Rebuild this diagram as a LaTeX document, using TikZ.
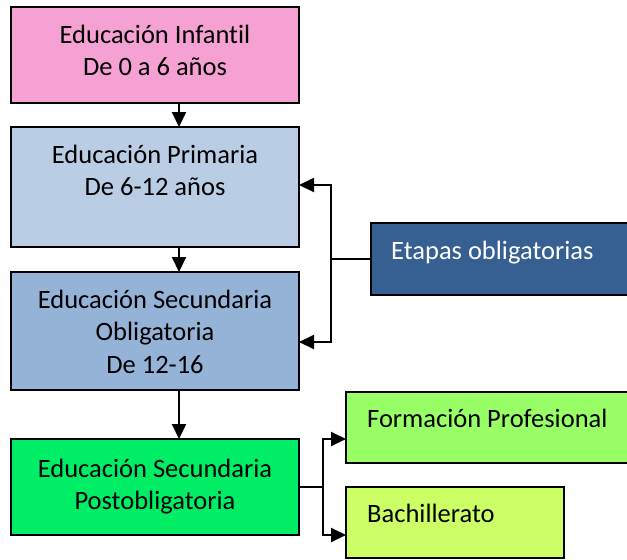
\documentclass[tikz,border=0pt]{standalone}
\usepackage{fontspec}
\setmainfont{Carlito}[Ligatures={NoCommon}]
\usetikzlibrary{arrows.meta}
\definecolor{cpink}{HTML}{F5A1D3}
\definecolor{clblue}{HTML}{B9CDE5}
\definecolor{cmblue}{HTML}{95B3D7}
\definecolor{cgreen}{HTML}{00EE66}
\definecolor{cdblue}{HTML}{376092}
\definecolor{clgreen}{HTML}{99FF66}
\definecolor{cygreen}{HTML}{CCFF66}
\tikzset{
  box/.style={draw=black, line width=2pt, rectangle, inner sep=0pt, outer sep=0pt, anchor=north west},
  txt/.style={inner sep=0pt, font=\fontsize{26.5pt}{32.5pt}\selectfont},
  arr/.style={draw=black, line width=2pt, -{Triangle[length=15pt,width=14pt]}},
  conn/.style={draw=black, line width=2pt}
}
\begin{document}
\begin{tikzpicture}[x=1pt,y=-1pt]
\useasboundingbox (0,0) rectangle (627,560);
\clip (0,0) rectangle (627,560);
\fill[white] (0,0) rectangle (627,560);
% boxes
\node[box, fill=cpink, minimum width=288pt, minimum height=96pt] (b1) at (11,7) {};
\node[box, fill=clblue, minimum width=288pt, minimum height=120pt] (b2) at (11,127) {};
\node[box, fill=cmblue, minimum width=288pt, minimum height=118pt] (b3) at (11,272) {};
\node[box, fill=cgreen, minimum width=288pt, minimum height=96pt] (b4) at (11,439) {};
\node[box, fill=cdblue, minimum width=269pt, minimum height=72pt] (et) at (371,223) {};
\node[box, fill=clgreen, minimum width=294pt, minimum height=71pt] (fp) at (346,392) {};
\node[box, fill=cygreen, minimum width=218pt, minimum height=71pt] (ba) at (346,487) {};
% texts
\node[txt, anchor=base] (t1) at (155,43) {\begin{tabular}[t]{@{}c@{}}Educación Infantil\\De 0 a 6 años\end{tabular}};
\node[txt, anchor=base] (t2) at (155,163) {\begin{tabular}[t]{@{}c@{}}Educación Primaria\\De 6-12 años\end{tabular}};
\node[txt, anchor=base] (t3) at (155,308) {\begin{tabular}[t]{@{}c@{}}Educación Secundaria\\Obligatoria\\De 12-16\end{tabular}};
\node[txt, anchor=base] (t4) at (155,477) {\begin{tabular}[t]{@{}c@{}}Educación Secundaria\\Postobligatoria\end{tabular}};
\node[txt, anchor=base west, text=white] (t5) at (391,259) {Etapas obligatorias};
\node[txt, anchor=base west] (t6) at (367,427) {Formación Profesional};
\node[txt, anchor=base west] (t7) at (367,522) {Bachillerato};
% vertical arrows
\coordinate (ax) at (179,0);
\draw[arr] (b1.south -| ax) -- (b2.north -| ax);
\draw[arr] (b2.south -| ax) -- (b3.north -| ax);
\draw[arr] (b3.south -| ax) -- (b4.north -| ax);
% bracket to compulsory stages
\coordinate (jx) at (331,0);
\coordinate (j1) at (et.west -| jx);
\coordinate (p2) at (299,185);
\coordinate (p3) at (299,342);
\draw[conn] (et.west) -- (j1);
\draw[arr] (j1) |- (p2);
\draw[arr] (j1) |- (p3);
% post-compulsory branches
\coordinate (kx) at (323,0);
\coordinate (j2) at (b4.east -| kx);
\coordinate (q1) at (346,439);
\coordinate (q2) at (346,535);
\draw[conn] (b4.east) -- (j2);
\draw[arr] (j2) |- (q1);
\draw[arr] (j2) |- (q2);
\end{tikzpicture}
\end{document}
